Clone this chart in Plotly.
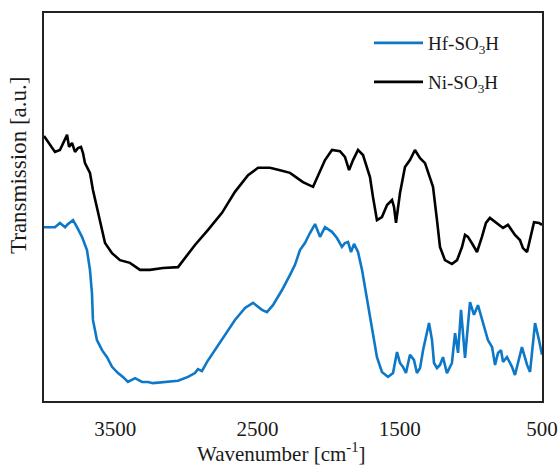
import plotly.graph_objects as go

# Ni-SO3H (black) spectrum: wavenumber [cm-1] and transmission [a.u.]
ni_wavenumber = [4000, 3958, 3923, 3888, 3866, 3838, 3824, 3803, 3782, 3761, 3740, 3726, 3712,
                 3677, 3656, 3628, 3606, 3571, 3522, 3466, 3396, 3325, 3255, 3164, 3058, 3009,
                 2939, 2847, 2749, 2658, 2566, 2496, 2412, 2341, 2271, 2222, 2180, 2109, 2060,
                 2025, 1976, 1920, 1885, 1856, 1828, 1793, 1758, 1709, 1688, 1660, 1625, 1589,
                 1554, 1540, 1526, 1498, 1463, 1428, 1393, 1357, 1322, 1287, 1266, 1238, 1217,
                 1182, 1133, 1097, 1062, 1041, 1020, 985, 957, 922, 894, 866, 830, 774, 739,
                 690, 655, 634, 605, 584, 556, 521, 500]
ni_transmission = [68.3, 66.0, 64.2, 64.7, 66.5, 68.6, 65.5, 66.5, 64.2, 65.2, 65.5, 63.9, 61.3,
                   58.8, 54.4, 50.0, 45.9, 40.7, 38.1, 36.3, 35.6, 33.8, 33.8, 34.3, 34.5, 36.9,
                   40.2, 44.1, 48.5, 53.9, 58.2, 60.1, 60.1, 59.5, 58.8, 57.5, 56.4, 55.2, 59.0,
                   62.1, 64.7, 64.4, 62.9, 59.5, 62.1, 64.7, 63.4, 57.7, 52.6, 46.6, 47.4, 50.5,
                   51.8, 50.0, 45.9, 53.6, 60.3, 62.1, 64.7, 62.6, 61.3, 57.7, 55.2, 46.6, 39.7,
                   36.3, 35.3, 36.3, 39.7, 42.8, 42.3, 40.2, 38.4, 42.3, 45.9, 47.2, 46.1, 44.6,
                   45.4, 42.8, 41.5, 39.4, 38.4, 41.5, 46.1, 45.9, 45.4]

# Hf-SO3H (blue) spectrum
hf_wavenumber = [4000, 3958, 3923, 3888, 3852, 3831, 3796, 3768, 3733, 3698, 3677, 3663, 3656,
                 3628, 3592, 3557, 3522, 3480, 3445, 3410, 3360, 3311, 3269, 3234, 3164, 3058,
                 2988, 2939, 2918, 2890, 2854, 2798, 2728, 2658, 2587, 2531, 2468, 2433, 2391,
                 2327, 2271, 2236, 2201, 2166, 2131, 2095, 2060, 2025, 1976, 1941, 1906, 1885,
                 1863, 1842, 1821, 1793, 1765, 1737, 1716, 1688, 1660, 1625, 1582, 1547, 1519,
                 1498, 1477, 1456, 1428, 1400, 1379, 1357, 1336, 1294, 1273, 1259, 1238, 1217,
                 1196, 1168, 1133, 1111, 1090, 1069, 1041, 1006, 978, 950, 922, 880, 851, 830,
                 809, 788, 774, 746, 711, 690, 641, 605, 584, 549, 521, 500]
hf_transmission = [44.8, 44.8, 44.8, 45.9, 44.8, 45.6, 46.6, 44.8, 42.3, 38.9, 33.8, 27.8, 20.9,
                   15.7, 13.1, 11.3, 8.8, 7.2, 6.2, 4.9, 5.9, 4.9, 4.9, 4.6, 4.9, 5.2,
                   6.2, 7.2, 8.2, 7.7, 10.1, 13.1, 17.0, 20.9, 24.0, 25.3, 23.5, 22.9, 24.7,
                   28.6, 32.5, 35.1, 38.9, 40.7, 43.3, 45.6, 42.3, 44.8, 43.6, 42.0, 39.7, 40.7,
                   41.0, 38.4, 40.5, 38.4, 33.8, 27.8, 22.7, 17.5, 11.3, 7.5, 6.2, 7.2, 12.6,
                   9.8, 8.8, 7.2, 11.9, 10.6, 7.2, 8.5, 13.1, 20.1, 15.7, 9.8, 8.5, 9.3,
                   11.3, 7.2, 9.8, 17.5, 12.4, 23.5, 11.1, 25.5, 22.2, 24.7, 20.9, 15.7, 13.9, 9.3,
                   12.4, 13.1, 10.1, 11.3, 8.8, 6.7, 13.9, 9.3, 7.5, 20.1, 15.7, 11.9]

x_ticks = [3500, 2500, 1500, 500]
x_tick_labels = ["3500", "2500", "1500", "500"]

FONT = "Liberation Serif, Times New Roman, serif"
TXT = "#1a1a1a"

fig = go.Figure()
fig.add_trace(go.Scatter(x=hf_wavenumber, y=hf_transmission, mode="lines",
                         name="Hf-SO<sub>3</sub>H", line=dict(color="#0E78C8", width=2.6),
                         legend="legend", showlegend=True))
fig.add_trace(go.Scatter(x=ni_wavenumber, y=ni_transmission, mode="lines",
                         name="Ni-SO<sub>3</sub>H", line=dict(color="#000000", width=2.6),
                         legend="legend2", showlegend=True))

legend_common = dict(xanchor="left", yanchor="middle", bgcolor="rgba(0,0,0,0)",
                     font=dict(family=FONT, size=19, color=TXT), itemwidth=49,
                     visible=True)
fig.update_layout(
    width=558, height=466,
    margin=dict(l=44, r=16, t=13, b=65, autoexpand=False),
    plot_bgcolor="white", paper_bgcolor="white",
    font=dict(family=FONT, color=TXT),
    showlegend=True,
    legend=dict(x=(369 - 44) / 498, y=(401 - 43) / 388, **legend_common),
    legend2=dict(x=(369 - 44) / 498, y=(401 - 82) / 388, **legend_common),
    xaxis=dict(range=[4000, 500], tickvals=x_ticks, ticktext=x_tick_labels,
               showgrid=False, zeroline=False, showline=True, mirror=True, automargin=False,
               linecolor="#222222", linewidth=1.5, ticks="outside", ticklen=8,
               tickcolor="rgba(0,0,0,0)", tickfont=dict(family=FONT, size=21, color=TXT)),
    yaxis=dict(range=[0, 100], showticklabels=False, showgrid=False, zeroline=False,
               automargin=False, showline=True, mirror=True, linecolor="#222222",
               linewidth=1.5, ticks=""),
    annotations=[
        dict(text="Transmission [a.u.]", xref="paper", yref="paper",
             x=(18 - 44) / 498, y=(401 - 166) / 388, textangle=-90, showarrow=False,
             font=dict(family=FONT, size=23, color=TXT), xanchor="center", yanchor="middle"),
        dict(text="Wavenumber [cm<sup>-1</sup>]", xref="paper", yref="paper",
             x=(281 - 44) / 498, y=(401 - 452) / 388, showarrow=False,
             font=dict(family=FONT, size=21, color=TXT), xanchor="center", yanchor="middle"),
    ],
)

fig.write_html(
    "out.html",
    config={"displayModeBar": False},
    post_script="document.documentElement.style.margin='0';document.body.style.margin='0';"
                "document.body.style.overflow='hidden';",
)
